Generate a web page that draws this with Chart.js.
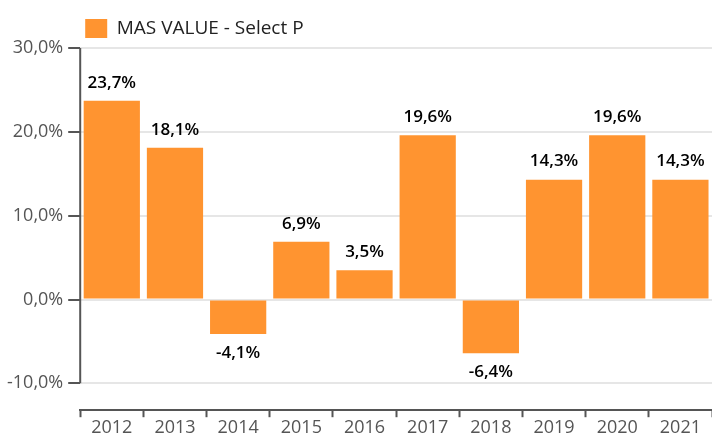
<!DOCTYPE html>
<html>
<head>
<meta charset="utf-8">
<script src="https://cdn.jsdelivr.net/npm/chart.js@4"></script>
<style>
  html, body { margin: 0; padding: 0; background: #fff; }
  #wrap { width: 712px; height: 439px; }
</style>
</head>
<body>
<div id="wrap"><canvas id="chart" width="712" height="439"></canvas></div>
<script>
const years = ["2012", "2013", "2014", "2015", "2016", "2017", "2018", "2019", "2020", "2021"];
const values = [23.7, 18.1, -4.1, 6.9, 3.5, 19.6, -6.4, 14.3, 19.6, 14.3];
const yTicks = [-10, 0, 10, 20, 30];
const seriesName = "MAS VALUE - Select P";

const orange = "#FF9430";

function pct(v) {
    return v.toFixed(1).replace(".", ",") + "%";
}

// value labels above / below each bar
const barLabels = {
    id: 'barLabels',
    afterDatasetsDraw(chart) {
        const ctx = chart.ctx;
        const meta = chart.getDatasetMeta(0);
        ctx.save();
        ctx.font = "600 17px 'Open Sans'";
        ctx.fillStyle = "#000";
        ctx.textAlign = "center";
        ctx.textBaseline = "middle";
        meta.data.forEach((bar, i) => {
            const v = values[i];
            const y = v >= 0 ? bar.y - 18 : bar.y + 19;
            ctx.fillText(pct(v), bar.x, y);
        });
        ctx.restore();
    }
};

// y axis line only between the first and last tick
const yLine = {
    id: 'yLine',
    afterDraw(chart) {
        const y = chart.scales.y;
        const ctx = chart.ctx;
        ctx.save();
        ctx.strokeStyle = "#555";
        ctx.lineWidth = 2;
        ctx.beginPath();
        ctx.moveTo(y.right, y.getPixelForValue(yTicks[yTicks.length - 1]));
        ctx.lineTo(y.right, y.getPixelForValue(yTicks[0]));
        ctx.stroke();
        ctx.restore();
    }
};

// push the legend over so it starts at the plot's left edge
const legendShift = {
    id: 'legendShift',
    beforeDraw(chart) {
        chart.legend.left = chart.chartArea.left - 5;
    }
};

new Chart(document.getElementById('chart'), {
    type: 'bar',
    data: {
        labels: years,
        datasets: [{
            label: seriesName,
            data: values,
            backgroundColor: orange,
            borderWidth: 0,
            categoryPercentage: 1,
            barPercentage: 0.89
        }]
    },
    options: {
        responsive: false,
        animation: false,
        layout: { padding: { left: 2, right: 0, top: 9, bottom: 0 } },
        plugins: {
            legend: {
                align: 'start',
                labels: {
                    boxWidth: 22,
                    boxHeight: 19,
                    color: "#222",
                    font: { family: "'Open Sans'", size: 19 },
                    padding: 10
                }
            },
            tooltip: { enabled: false }
        },
        scales: {
            x: {
                grid: {
                    offset: true,
                    drawOnChartArea: false,
                    tickLength: 7,
                    tickColor: "#555",
                    tickWidth: 2
                },
                border: { color: "#555", width: 2 },
                ticks: {
                    color: "#555",
                    font: { family: "'Open Sans'", size: 18, lineHeight: 1.1 },
                    padding: 1
                }
            },
            y: {
                min: -13.2,
                max: 30,
                afterBuildTicks(scale) {
                    scale.ticks = yTicks.map(v => ({ value: v }));
                },
                grid: {
                    color: "#e6e6e6",
                    lineWidth: 2,
                    tickColor: "#555",
                    tickWidth: 2,
                    tickLength: 12
                },
                border: { display: false },
                ticks: {
                    color: "#555",
                    font: { family: "'Open Sans'", size: 18 },
                    padding: 5,
                    callback: v => pct(v)
                }
            }
        }
    },
    plugins: [barLabels, yLine, legendShift]
});
</script>
</body>
</html>
